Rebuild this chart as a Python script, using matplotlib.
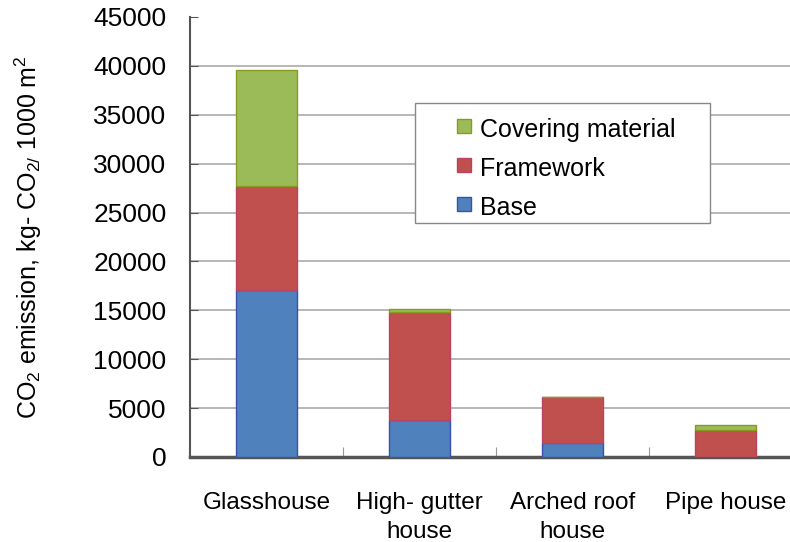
import numpy as np
import matplotlib
matplotlib.use('Agg')
import matplotlib.pyplot as plt
from matplotlib.patches import Rectangle

plt.rcParams['font.family'] = ['Liberation Sans', 'DejaVu Sans']
plt.rcParams['mathtext.default'] = 'regular'

# ── Embodied CO2 of greenhouse structures, per 1000 m² ─────────────────
houses   = ['Glasshouse', 'High- gutter\nhouse', 'Arched roof\nhouse', 'Pipe house']
base     = [17100, 3800, 1400, 0]
frame    = [10600, 11050, 4750, 2750]
covering = [11900, 250, 0, 500]

C_BASE  = ('#4F81BD', '#3A4FB0')
C_FRAME = ('#C0504D', '#B84462')
C_COVER = ('#9BBB59', '#8A9A20')

W, H = 790, 542
fig = plt.figure(figsize=(W / 100, H / 100), dpi=100)
ax = fig.add_axes([190 / W, 85 / H, 612 / W, 440 / H])

x = np.arange(len(houses))
w = 0.4
bottom2 = np.array(base) + np.array(frame)

ax.bar(x, base, w, color=C_BASE[0], edgecolor=C_BASE[1], linewidth=1.0, zorder=3)
ax.bar(x, frame, w, bottom=base, color=C_FRAME[0], edgecolor=C_FRAME[1],
       linewidth=1.0, zorder=3)
ax.bar(x, covering, w, bottom=bottom2, color=C_COVER[0], edgecolor=C_COVER[1],
       linewidth=1.0, zorder=3)

ax.set_xlim(-0.5, len(houses) - 0.5)
ax.set_ylim(0, 45000)
ax.set_yticks(np.arange(0, 45001, 5000))
ax.tick_params(axis='y', direction='in', length=6, color='#555555',
               labelsize=19, pad=17)

# category ticks sit on the boundaries, labels in the middle
ax.set_xticks(np.arange(0.5, len(houses) - 0.5, 1.0))
ax.set_xticks(x, minor=True)
ax.set_xticklabels([])
ax.set_xticklabels(houses, minor=True, fontsize=17.5, linespacing=1.45)
ax.tick_params(axis='x', which='major', direction='in', length=7, color='#999999')
ax.tick_params(axis='x', which='minor', length=0, pad=25)

for y in range(5000, 45000, 5000):
    ax.axhline(y, color='#AAAAAA', linewidth=1.2, zorder=1)

for side in ['top', 'right']:
    ax.spines[side].set_visible(False)
ax.spines['left'].set_color('#555555')
ax.spines['left'].set_linewidth(1.5)
ax.spines['bottom'].set_color('#555555')
ax.spines['bottom'].set_linewidth(2.5)

ax.set_ylabel(r'CO$_2$ emission, kg- CO$_{2/}$ 1000 m$^2$', fontsize=18)
ax.yaxis.set_label_coords((44 - 190) / 612, 0.5)

# legend box drawn by hand (pixel layout, top-left origin)
def px(xp, yp):
    return xp / W, 1 - yp / H

x0, y0 = px(415, 223)
x1, y1 = px(710, 103)
fig.patches.append(Rectangle((x0, y0), x1 - x0, y1 - y0, transform=fig.transFigure,
                             facecolor='white', edgecolor='#888888', linewidth=1.0,
                             zorder=5))
entries = [('Covering material', C_COVER), ('Framework', C_FRAME), ('Base', C_BASE)]
for i, (name, (fc, ec)) in enumerate(entries):
    yc = 130 + i * 39
    hx, hy = px(457, yc + 3)
    fig.patches.append(Rectangle((hx, hy), 14 / W, 14 / H, transform=fig.transFigure,
                                 facecolor=fc, edgecolor=ec, linewidth=1.0, zorder=6))
    tx, ty = px(480, yc)
    fig.text(tx, ty, name, fontsize=18, ha='left', va='center', zorder=7)

fig.savefig('out.png', dpi=100)
